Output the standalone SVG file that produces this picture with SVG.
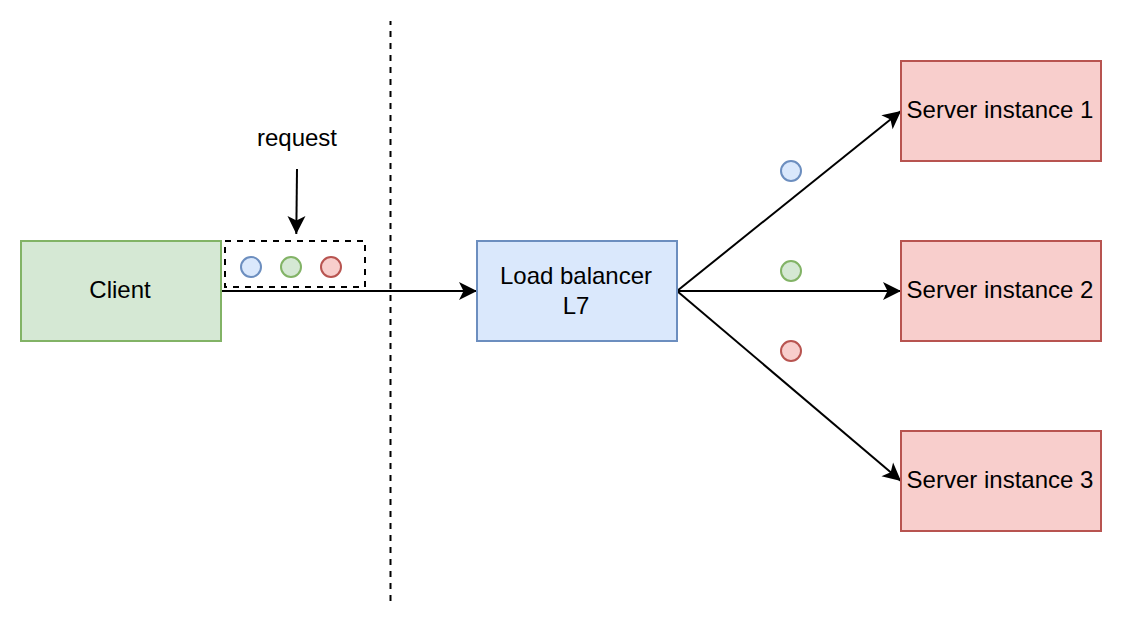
<svg xmlns="http://www.w3.org/2000/svg" width="1124" height="626" viewBox="0 0 1124 626">
<defs>
<marker id="arrow" viewBox="0 0 20 20" refX="19" refY="10" markerWidth="20" markerHeight="20" markerUnits="userSpaceOnUse" orient="auto"><path d="M1 1 L19 10 L1 19 L5.5 10 Z" fill="#000"/></marker>
</defs>
<style>
text{font-family:"Liberation Sans",Arial,sans-serif;font-size:24px;fill:#000;text-anchor:middle}
.g{fill:#d5e8d4;stroke:#82b366;stroke-width:2}
.b{fill:#dae8fc;stroke:#6c8ebf;stroke-width:2}
.r{fill:#f8cecc;stroke:#b85450;stroke-width:2}
.c{fill:none;stroke:#000;stroke-width:2;marker-end:url(#arrow)}
.d{fill:none;stroke:#000;stroke-width:2;stroke-dasharray:6 6}
</style>
<rect width="1124" height="626" fill="#fff"/>
<g id="connectors">
<path class="c" d="M221 291H477"/>
<path class="c" d="M677 291L901 111"/>
<path class="c" d="M677 291H901"/>
<path class="c" d="M677 291L901 481"/>
<path class="c" d="M297 169L296.3 234"/>
<path class="d" stroke-dashoffset="2" d="M390.5 21V601"/>
</g>
<g id="client"><rect class="g" x="21" y="241" width="200" height="100"/><text x="120" y="298">Client</text></g>
<g id="request-label"><text x="297" y="146">request</text></g>
<g id="request-box"><rect class="d" x="225" y="241" width="140" height="46"/>
<circle class="b" cx="251" cy="267" r="10"/><circle class="g" cx="291" cy="267" r="10"/><circle class="r" cx="331" cy="267" r="10"/></g>
<g id="load-balancer"><rect class="b" x="477" y="241" width="200" height="100"/><text x="576" y="284">Load balancer</text><text x="576" y="314">L7</text></g>
<g id="server-1"><rect class="r" x="901" y="61" width="200" height="100"/><text x="1000" y="118">Server instance 1</text></g>
<g id="server-2"><rect class="r" x="901" y="241" width="200" height="100"/><text x="1000" y="298">Server instance 2</text></g>
<g id="server-3"><rect class="r" x="901" y="431" width="200" height="100"/><text x="1000" y="488">Server instance 3</text></g>
<g id="dot-blue"><circle class="b" cx="791" cy="171" r="10"/></g>
<g id="dot-green"><circle class="g" cx="791" cy="271" r="10"/></g>
<g id="dot-red"><circle class="r" cx="791" cy="351" r="10"/></g>
</svg>
